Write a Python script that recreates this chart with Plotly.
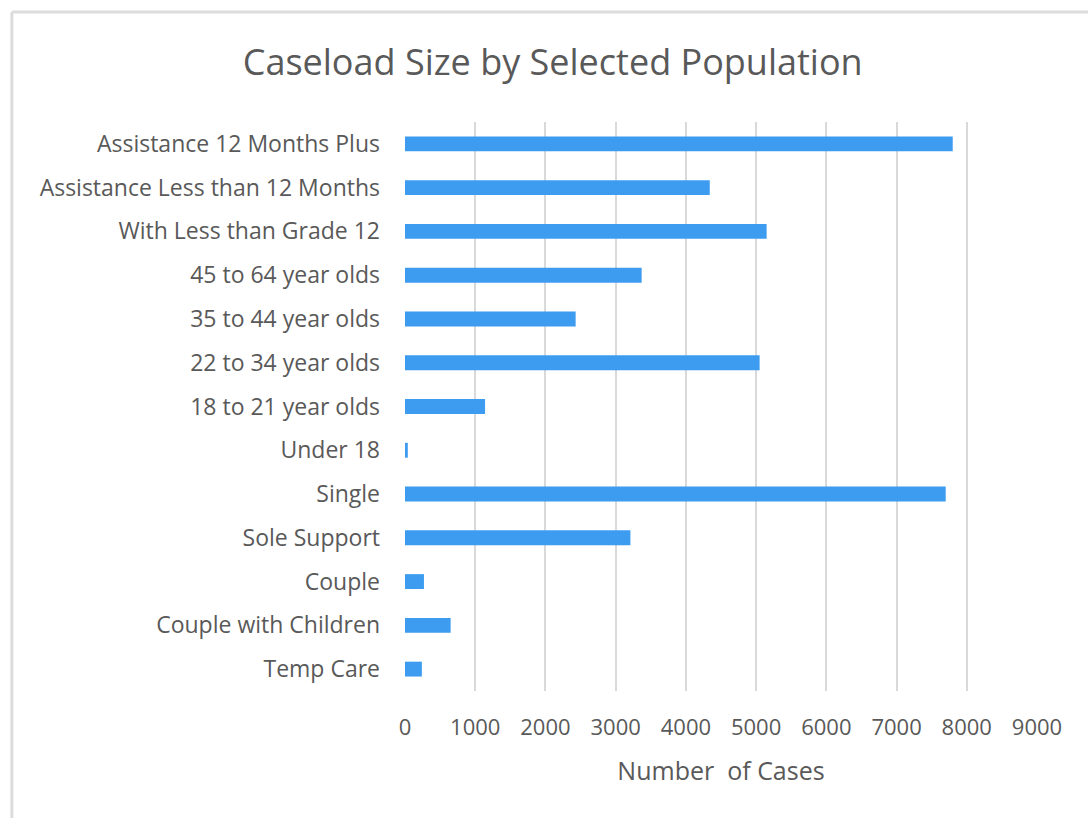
import plotly.graph_objects as go

# Caseload counts by population group (top to bottom as listed)
categories = [
    "Assistance 12 Months Plus",
    "Assistance Less than 12 Months",
    "With Less than Grade 12",
    "45 to 64 year olds",
    "35 to 44 year olds",
    "22 to 34 year olds",
    "18 to 21 year olds",
    "Under 18",
    "Single",
    "Sole Support",
    "Couple",
    "Couple with Children",
    "Temp Care",
]
cases = [7800, 4340, 5150, 3370, 2430, 5050, 1140, 40, 7700, 3210, 270, 650, 240]

x_ticks = [0, 1000, 2000, 3000, 4000, 5000, 6000, 7000, 8000, 9000]

TEXT = "#595959"
FONT = "Open Sans"

fig = go.Figure(
    go.Bar(
        x=cases,
        y=categories,
        orientation="h",
        marker=dict(color="#3d9cf0", line=dict(width=0)),
        hoverinfo="x+y",
    )
)

fig.update_layout(
    width=1088,
    height=818,
    margin=dict(l=405, r=51, t=122, b=127),
    paper_bgcolor="white",
    plot_bgcolor="white",
    bargap=0.66,
    showlegend=False,
    font=dict(family=FONT, color=TEXT, size=20),
    title=dict(
        text="Caseload Size by Selected Population",
        x=0.508,
        xanchor="center",
        y=1 - 62 / 818,
        yanchor="middle",
        font=dict(family=FONT, size=36, color=TEXT),
    ),
    xaxis=dict(
        range=[0, 9000],
        tickvals=x_ticks,
        ticktext=[str(v) for v in x_ticks],
        showgrid=True,
        gridcolor="#d9d9d9",
        gridwidth=1.5,
        zeroline=False,
        showline=False,
        ticks="",
        ticklabelstandoff=21,
        tickfont=dict(family=FONT, size=22, color=TEXT),
        title=dict(
            text="Number  of Cases",
            font=dict(family=FONT, size=25, color=TEXT),
            standoff=22,
        ),
    ),
    yaxis=dict(
        categoryorder="array",
        categoryarray=categories[::-1],
        showgrid=False,
        zeroline=False,
        showline=False,
        ticks="",
        ticklabelstandoff=24,
        tickfont=dict(family=FONT, size=23, color=TEXT),
    ),
    shapes=[
        # light frame around the chart area (top and left edges)
        dict(
            type="line", xref="paper", yref="paper",
            x0=(10 - 405) / 635, x1=(1100 - 405) / 635,
            y0=1 + (122 - 12) / 569, y1=1 + (122 - 12) / 569,
            line=dict(color="#dcdcdc", width=3),
        ),
        dict(
            type="line", xref="paper", yref="paper",
            x0=(10 - 405) / 635, x1=(10 - 405) / 635,
            y0=1 + (122 - 12) / 569, y1=-(830 - 691) / 569,
            line=dict(color="#dcdcdc", width=3),
        ),
    ],
)

fig.write_html("out.html")
